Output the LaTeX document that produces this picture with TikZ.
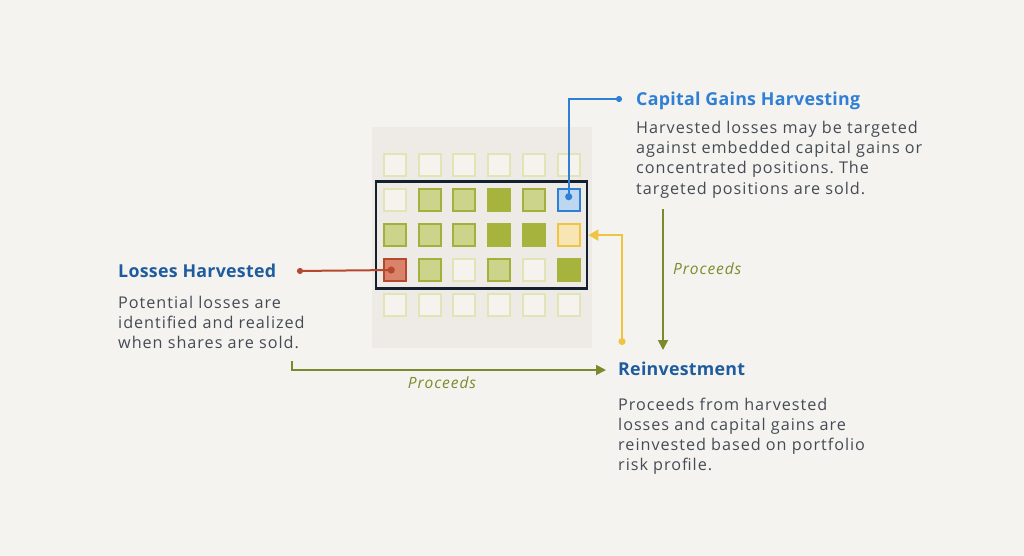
\documentclass[tikz,border=0pt]{standalone}
\usepackage{fontspec}
\setmainfont{Open Sans}
\newfontfamily\bodyfont[LetterSpace=6]{Open Sans}
\newfontfamily\headfont[LetterSpace=1.5]{Open Sans}
\usetikzlibrary{arrows.meta,positioning,fit}
\definecolor{paper}{HTML}{F5F3EF}
\definecolor{panel}{HTML}{EEEBE6}
\definecolor{palegrn}{HTML}{DFE5B5}
\definecolor{offwhite}{HTML}{F6F3EF}
\definecolor{midgrn}{HTML}{CBD48A}
\definecolor{midedge}{HTML}{A3B03C}
\definecolor{darkgrn}{HTML}{A6B33C}
\definecolor{olive}{HTML}{7D8A2C}
\definecolor{navy}{HTML}{13202E}
\definecolor{skyfill}{HTML}{BDD7F1}
\definecolor{skyedge}{HTML}{2F7FD6}
\definecolor{sandfill}{HTML}{F7E6B4}
\definecolor{sandedge}{HTML}{EEC440}
\definecolor{rustfill}{HTML}{D9836A}
\definecolor{rustedge}{HTML}{B5482E}
\definecolor{headblue}{HTML}{1F5C9E}
\definecolor{bodygrey}{HTML}{454B55}
\frenchspacing

\begin{document}
\begin{tikzpicture}[x=1pt,y=-1pt,
    sq/.style={minimum size=22pt,inner sep=0pt,line width=2pt},
    sq-e/.style={sq,fill=offwhite,draw=palegrn},
    sq-m/.style={sq,fill=midgrn,draw=midedge},
    sq-d/.style={sq,fill=darkgrn,draw=darkgrn},
    sq-b/.style={sq,fill=skyfill,draw=skyedge},
    sq-y/.style={sq,fill=sandfill,draw=sandedge},
    sq-r/.style={sq,fill=rustfill,draw=rustedge},
    head/.style={anchor=base west,inner sep=0pt,font=\headfont\fontsize{17.8}{20}\selectfont\bfseries},
    body/.style={anchor=base west,inner sep=0pt,text=bodygrey,font=\bodyfont\fontsize{16.2}{20}\selectfont},
    lbl/.style={inner sep=0pt,text=olive,font=\bodyfont\fontsize{15.5}{18}\selectfont\itshape},
    flow/.style={olive,line width=1.8pt,-{Triangle[length=10pt,width=10pt]}}]
  \fill[paper] (0,0) rectangle (1024,556);
  \fill[panel] (372,127) rectangle (592,348);

  % holdings grid
  \foreach \r/\row in {1/{e,e,e,e,e,e},2/{e,m,m,d,m,b},3/{m,m,m,d,d,y},
                       4/{r,m,e,m,e,d},5/{e,e,e,e,e,e}}
    \foreach \s [count=\c] in \row
      \node[sq-\s] (c\r\c) at ({394.7+34.8*(\c-1)},{165.3+34.9*(\r-1)}) {};
  \node[draw=navy,line width=2.5pt,inner sep=6.5pt,fit=(c21)(c46)] (box) {};

  % capital gains
  \node[head,text=skyedge] (capttl) at (636,106) {Capital Gains Harvesting};
  \foreach \t [count=\i from 0] in {Harvested losses may be targeted,
      against embedded capital gains or,concentrated positions. The,
      targeted positions are sold.}
    \node[body] (cap\i) at (636,134+20*\i) {\t};
  \coordinate (capdot) at (622,99);
  \draw[skyedge,line width=2pt,{Circle[length=7pt]}-{Circle[length=6pt]}]
    (c26.center) |- (capdot);

  % losses
  \node[head,text=headblue] (lossttl) at (118,277.3) {Losses Harvested};
  \foreach \t [count=\i from 0] in {Potential losses are,identified and realized,
      when shares are sold.}
    \node[body] (loss\i) at (118,308+20*\i) {\t};
  \coordinate (lossdot) at (297,271);
  \draw[rustedge,line width=2pt,{Circle[length=6pt]}-{Circle[length=7pt]}]
    (lossdot) -- (c41.center);

  % reinvestment
  \node[head,text=headblue] (reinttl) at (618,375.7) {Reinvestment};
  \foreach \t [count=\i from 0] in {Proceeds from harvested,losses and capital gains are,
      reinvested based on portfolio,risk profile.}
    \node[body] (rein\i) at (618,410+20*\i) {\t};
  \coordinate (reindot) at (622,345);
  \draw[sandedge,line width=2pt,{Circle[length=7pt]}-{Triangle[length=10pt,width=11pt]}]
    (reindot) |- (box.east);

  % proceeds
  \coordinate (lossleg) at (292,361);
  \coordinate (reinin) at (606,370);
  \draw[flow] (lossleg) |- (reinin);
  \node[lbl] (prc1) at (442,383) {Proceeds};
  \coordinate (captop) at (663,209);
  \coordinate (capbot) at (663,350);
  \draw[flow] (captop) -- (capbot);
  \node[lbl,anchor=west] (prc2) at (673,269) {Proceeds};
\end{tikzpicture}
\end{document}
